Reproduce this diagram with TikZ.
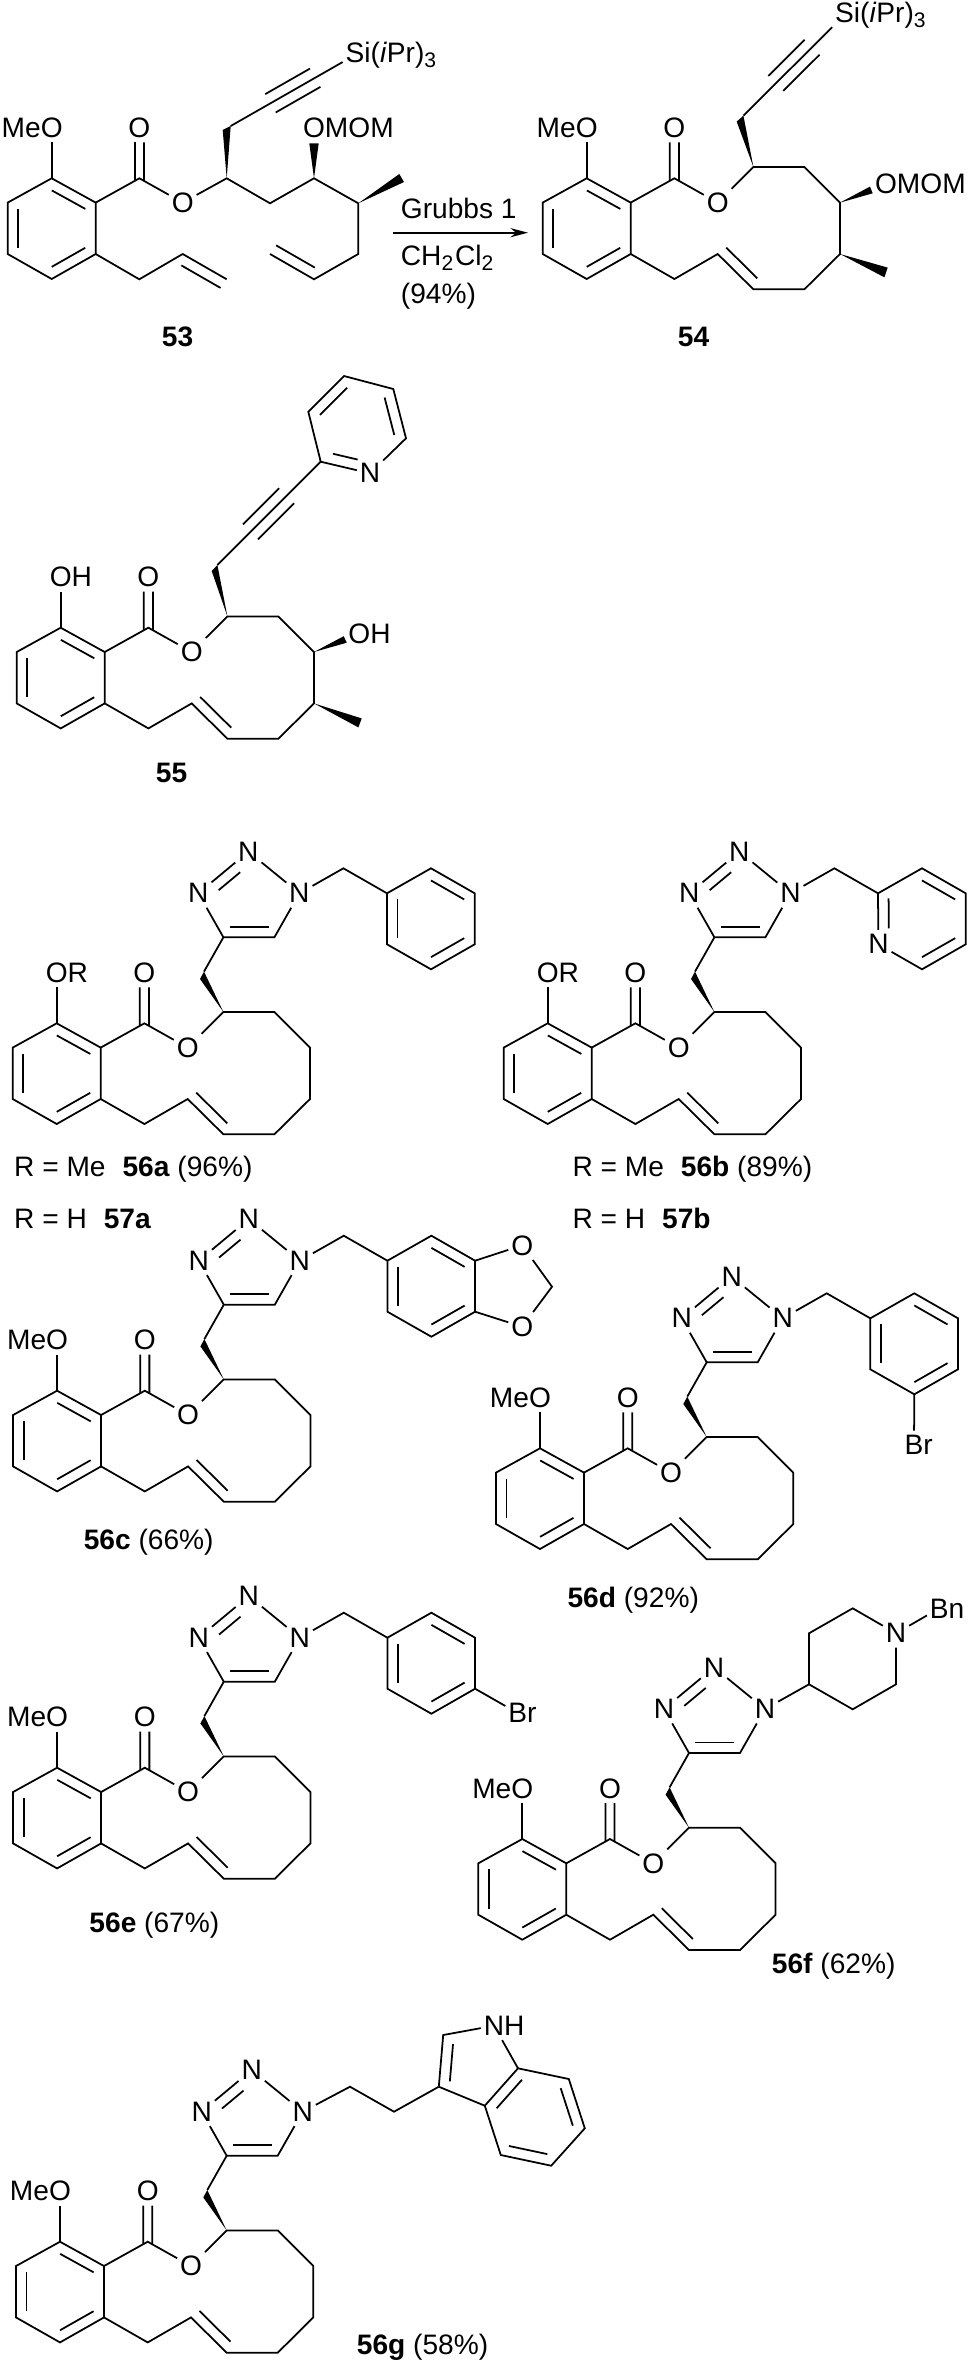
\documentclass[tikz,border=0pt]{standalone}
\usepackage{fontspec}
\setmainfont{Liberation Sans}
\usetikzlibrary{calc,arrows.meta}

\tikzset{
    atom/.style={inner xsep=0.6pt, inner ysep=1.1pt},
    caption/.style={anchor=base west, inner sep=0pt},
    every node/.style={font=\fontsize{8}{9.6}\selectfont},
}

% inner line of a double bond
\newcommand{\dbond}[6][3pt]{\draw ($(#2)!#5!(#3)!#1!#4:(#3)$) -- ($(#2)!#6!(#3)!#1!#4:(#3)$);}

% aromatic ring with ester
\newcommand{\salicyl}[1]{
    \coordinate (c1) at (0, 0);
    \coordinate (c2) at (44, 24.3);
    \coordinate (c3) at (44, 75.7);
    \coordinate (c4) at (0, 100.7);
    \coordinate (c5) at (-44, 75.7);
    \coordinate (c6) at (-44, 24.3);
    \coordinate (cco) at (87.7, 0);
    \node[atom] (oco) at (87.7, -50.7) {O};
    \node[atom] (oes) at (131, 24.3) {O};
    \node[atom] (oar) at (0, -50.7) {#1};
    \draw (c1) -- (c2) -- (c3) -- (c4) -- (c5) -- (c6) -- cycle;
    \dbond{c1}{c2}{-90}{0.12}{0.88}
    \dbond{c3}{c4}{-90}{0.12}{0.88}
    \dbond{c5}{c6}{-90}{0.12}{0.88}
    \draw (c1) -- (oar);
    \draw (c2) -- (cco) -- (oes);
    \dbond[1.3pt]{cco}{oco}{90}{-0.05}{0.71}
    \dbond[1.3pt]{cco}{oco}{-90}{-0.05}{0.71}
}

% macrocycle closed through the alkene
\newcommand{\macroring}{
    \coordinate (cs) at (166.7, -11.3);
    \coordinate (ra) at (217.7, -11.3);
    \coordinate (rb) at (253.3, 24.3);
    \coordinate (rc) at (253.3, 75.7);
    \coordinate (rd) at (217.7, 111);
    \coordinate (re) at (166.7, 111);
    \coordinate (rf) at (131, 75.7);
    \coordinate (rg) at (87.7, 100.7);
    \draw (oes) -- (cs) -- (ra) -- (rb) -- (rc) -- (rd) -- (re) -- (rf) -- (rg) -- (c3);
    \dbond{rf}{re}{90}{0.03}{0.9}
}

% triazole on its stereo arm
\newcommand{\triazole}{
    \coordinate (wa) at (143.3, -44.3);
    \coordinate (wb) at (147.3, -51.7);
    \coordinate (t4) at (166.7, -86);
    \coordinate (t5) at (217.7, -86);
    \node[atom] (n1) at (242.7, -130) {N};
    \node[atom] (n2) at (191.7, -171.7) {N};
    \node[atom] (n3) at (141.7, -130) {N};
    \fill (cs) -- (wa) -- (wb) -- cycle;
    \draw (wb) -- (t4) -- (t5) -- (n1) -- (n2);
    \draw (n2) -- (n3) -- (t4);
    \dbond{t4}{t5}{90}{0.12}{0.89}
    \dbond{n3}{n2}{-90}{0.27}{0.7}
}

% benzyl on the triazole
\newcommand{\benzyl}{
    \coordinate (ch) at (286.7, -155);
    \coordinate (p1) at (330.3, -130);
    \coordinate (p2) at (374.3, -155);
    \coordinate (p3) at (418, -130);
    \coordinate (p4) at (418, -79);
    \coordinate (p5) at (374.3, -54);
    \coordinate (p6) at (330.3, -79);
    \draw (n1) -- (ch) -- (p1);
    \draw (p1) -- (p2) -- (p3) -- (p4) -- (p5) -- (p6) -- cycle;
    \dbond{p2}{p3}{-90}{0.12}{0.88}
    \dbond{p4}{p5}{-90}{0.12}{0.88}
    \dbond{p6}{p1}{-90}{0.12}{0.88}
}

\begin{document}
\begin{tikzpicture}[x=0.01cm, y=-0.01cm, line width=0.5pt]

    \useasboundingbox (0, 0) rectangle (969, 2363);

    % 53
    \begin{scope}[shift={(51.7, 178.3)}]
        \salicyl{\llap{Me}O}
    \end{scope}
    \coordinate (cs) at (226.7, 178.3);
    \coordinate (ha) at (270, 203.3);
    \coordinate (hb) at (314, 178.3);
    \coordinate (hc) at (358.3, 203.3);
    \coordinate (hd) at (358.3, 254);
    \coordinate (he) at (314, 279.3);
    \coordinate (hf) at (270, 254);
    \coordinate (al) at (139.3, 279.3);
    \coordinate (am) at (182.7, 254);
    \coordinate (an) at (226.7, 279.3);
    \coordinate (wa) at (222.7, 130);
    \coordinate (wb) at (230.7, 126);
    \coordinate (wc) at (309.3, 143.3);
    \coordinate (wd) at (318.7, 143.3);
    \coordinate (we) at (399.3, 174);
    \coordinate (wf) at (404, 182);
    \node[atom] (si) at (355, 55) {S\rlap{i(\textit{i}Pr)\textsubscript{3}}};
    \node[atom] (omom) at (314, 127.7) {O\rlap{MOM}};
    \draw (oes) -- (cs) -- (ha) -- (hb) -- (hc) -- (hd) -- (he) -- (hf);
    \dbond{he}{hf}{-90}{0.1}{0.98}
    \draw (c3) -- (al) -- (am) -- (an);
    \dbond{am}{an}{-90}{0.09}{0.98}
    \fill (cs) -- (wa) -- (wb) -- cycle;
    \fill (hb) -- (wc) -- (wd) -- cycle;
    \fill (hc) -- (we) -- (wf) -- cycle;
    \draw (wb) -- (si);
    \dbond{wb}{si}{90}{0.32}{0.68}
    \dbond{wb}{si}{-90}{0.32}{0.68}
    \node[caption, font=\fontsize{8}{9.6}\selectfont\bfseries] (lab53) at (161, 346.7) {53};

    % arrow
    \coordinate (arrowa) at (392.7, 232.7);
    \coordinate (arrowb) at (528, 232.7);
    \draw[-{Stealth[length=5pt, width=2.6pt]}] (arrowa) -- (arrowb);
    \node[caption] (cat) at (400, 218.3) {Grubbs 1};
    \node[caption] (solv) at (400, 265) {CH\textsubscript{2}Cl\textsubscript{2}};
    \node[caption] (yield) at (400, 303) {(94\%)};

    % 54
    \begin{scope}[shift={(586.7, 178.3)}]
        \salicyl{\llap{Me}O}
        \macroring
        \coordinate (wa) at (150, -56.7);
        \coordinate (wb) at (156.7, -62.7);
        \coordinate (wc) at (283.3, 8.3);
        \coordinate (wd) at (286, 15);
        \coordinate (we) at (301, 89.3);
        \coordinate (wf) at (297.7, 99);
        \node[atom] (omom) at (299.3, 6) {O\rlap{MOM}};
        \fill (cs) -- (wa) -- (wb) -- cycle;
        \fill (rb) -- (wc) -- (wd) -- cycle;
        \fill (rc) -- (we) -- (wf) -- cycle;
    \end{scope}
    \node[atom] (si) at (844.5, 15) {S\rlap{i(\textit{i}Pr)\textsubscript{3}}};
    \draw (wb) -- (si);
    \dbond{wb}{si}{90}{0.32}{0.68}
    \dbond{wb}{si}{-90}{0.32}{0.68}
    \node[caption, font=\fontsize{8}{9.6}\selectfont\bfseries] (lab54) at (677, 346.7) {54};

    % 55
    \begin{scope}[shift={(60.7, 627.7)}]
        \salicyl{O\rlap{H}}
        \macroring
        \coordinate (wa) at (151, -56.7);
        \coordinate (wb) at (156.7, -62.7);
        \coordinate (wc) at (283, 8.5);
        \coordinate (wd) at (286, 15);
        \coordinate (we) at (301, 90.7);
        \coordinate (wf) at (297.7, 99.7);
        \node[atom] (ohy) at (298.7, 6.3) {O\rlap{H}};
        \fill (cs) -- (wa) -- (wb) -- cycle;
        \fill (rb) -- (wc) -- (wd) -- cycle;
        \fill (rc) -- (we) -- (wf) -- cycle;
    \end{scope}
    \coordinate (py2) at (320.7, 461.7);
    \coordinate (py3) at (308.3, 411.7);
    \coordinate (py4) at (344, 376);
    \coordinate (py5) at (393.3, 389);
    \coordinate (py6) at (406, 438.3);
    \node[atom] (pyn) at (370, 473.3) {N};
    \draw (wb) -- (py2);
    \dbond{wb}{py2}{90}{0.32}{0.67}
    \dbond{wb}{py2}{-90}{0.32}{0.67}
    \draw (py2) -- (py3) -- (py4) -- (py5) -- (py6) -- (pyn) -- (py2);
    \dbond{py3}{py4}{-90}{0.12}{0.88}
    \dbond{py5}{py6}{-90}{0.12}{0.88}
    \dbond{py2}{pyn}{90}{0.2}{0.7}
    \node[caption, font=\fontsize{8}{9.6}\selectfont\bfseries] (lab55) at (155, 782.7) {55};

    % 56a
    \begin{scope}[shift={(56.7, 1023.3)}]
        \salicyl{O\rlap{R}}
        \macroring
        \triazole
        \benzyl
    \end{scope}
    \node[caption] (lab56a) at (13.3, 1176) {R = Me\hspace{.6em}\textbf{56a} (96\%)};
    \node[caption] (lab57a) at (13.3, 1228.3) {R = H\hspace{.6em}\textbf{57a}};

    % 56b
    \begin{scope}[shift={(547.7, 1023.3)}]
        \salicyl{O\rlap{R}}
        \macroring
        \triazole
        \coordinate (ch) at (286.7, -155);
        \coordinate (p1) at (330.3, -130);
        \coordinate (p2) at (374.3, -155);
        \coordinate (p3) at (418, -130);
        \coordinate (p4) at (418, -79);
        \coordinate (p5) at (374.3, -54);
        \node[atom] (p6) at (330.7, -79) {N};
        \draw (n1) -- (ch) -- (p1);
        \draw (p1) -- (p2) -- (p3) -- (p4) -- (p5) -- (p6) -- (p1);
        \dbond{p2}{p3}{-90}{0.12}{0.88}
        \dbond{p4}{p5}{-90}{0.12}{0.88}
        \dbond{p6}{p1}{-90}{0.31}{0.9}
    \end{scope}
    \node[caption] (lab56b) at (571.7, 1176) {R = Me\hspace{.6em}\textbf{56b} (89\%)};
    \node[caption] (lab57b) at (571.7, 1228.3) {R = H\hspace{.6em}\textbf{57b}};

    % 56c
    \begin{scope}[shift={(57.1, 1390.7)}]
        \salicyl{\llap{Me}O}
        \macroring
        \triazole
        \benzyl
    \end{scope}
    \node[atom] (do1) at (522.2, 1245.3) {O};
    \node[atom] (do2) at (522.2, 1326.7) {O};
    \coordinate (dc) at (552, 1286.7);
    \draw (p3) -- (do1) -- (dc) -- (do2) -- (p4);
    \node[caption] (lab56c) at (82.9, 1549.3) {\textbf{56c} (66\%)};

    % 56d
    \begin{scope}[shift={(540, 1448.3)}]
        \salicyl{\llap{Me}O}
        \macroring
        \triazole
        \benzyl
    \end{scope}
    \node[atom] (br) at (914, 1445) {B\rlap{r}};
    \draw (p5) -- (br);
    \node[caption] (lab56d) at (566.7, 1607.3) {\textbf{56d} (92\%)};

    % 56e
    \begin{scope}[shift={(57.1, 1767.7)}]
        \salicyl{\llap{Me}O}
        \macroring
        \triazole
        \benzyl
    \end{scope}
    \node[atom] (br) at (517.7, 1713) {B\rlap{r}};
    \draw (p4) -- (br);
    \node[caption] (lab56e) at (88.6, 1932.7) {\textbf{56e} (67\%)};

    % 56f
    \begin{scope}[shift={(522.3, 1839)}]
        \salicyl{\llap{Me}O}
        \macroring
        \triazole
    \end{scope}
    \coordinate (pa) at (809, 1684.3);
    \coordinate (pb) at (809, 1633.3);
    \coordinate (pc) at (852.7, 1608.3);
    \coordinate (pd) at (896, 1684.3);
    \coordinate (pe) at (852.7, 1709.3);
    \node[atom] (pn) at (896, 1633.3) {N};
    \node[atom] (bn) at (939.3, 1608.3) {B\rlap{n}};
    \draw (n1) -- (pa) -- (pb) -- (pc) -- (pn) -- (pd) -- (pe) -- (pa);
    \draw (pn) -- (bn);
    \node[caption] (lab56f) at (771, 1973.3) {\textbf{56f} (62\%)};

    % 56g
    \begin{scope}[shift={(60, 2241.7)}]
        \salicyl{\llap{Me}O}
        \macroring
        \triazole
    \end{scope}
    \coordinate (ea) at (350, 2086.7);
    \coordinate (eb) at (394, 2111.7);
    \coordinate (i3) at (438.8, 2086.7);
    \coordinate (i2) at (443.2, 2035);
    \coordinate (i3a) at (484.8, 2105.7);
    \coordinate (i7a) at (518, 2068.3);
    \coordinate (i7) at (568.8, 2079);
    \coordinate (i6) at (584.8, 2128.3);
    \coordinate (i5) at (551.2, 2165.7);
    \coordinate (i4) at (500.8, 2155);
    \node[atom] (inh) at (494, 2025.7) {N\rlap{H}};
    \draw (n1) -- (ea) -- (eb) -- (i3);
    \draw (i3) -- (i2) -- (inh) -- (i7a);
    \draw (i3) -- (i3a) -- (i7a) -- (i7) -- (i6) -- (i5) -- (i4) -- (i3a);
    \dbond{i2}{i3}{90}{0.16}{0.88}
    \dbond{i3a}{i7a}{-90}{0.12}{0.88}
    \dbond{i7}{i6}{-90}{0.12}{0.88}
    \dbond{i5}{i4}{-90}{0.12}{0.88}
    \node[caption] (lab56g) at (356, 2354.3) {\textbf{56g} (58\%)};

\end{tikzpicture}
\end{document}
